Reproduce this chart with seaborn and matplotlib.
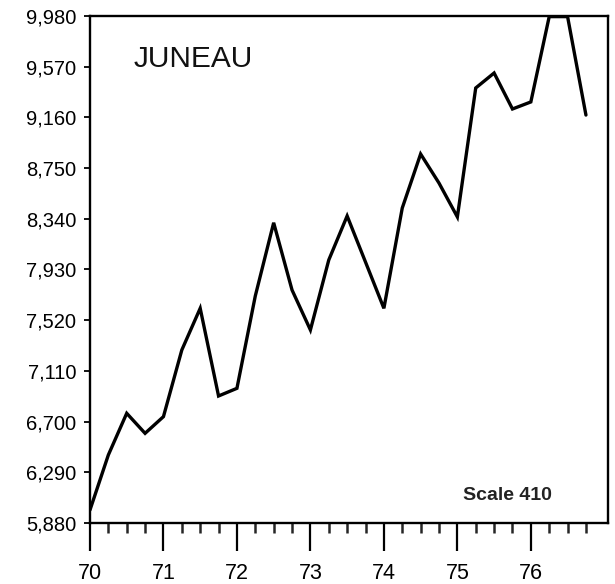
import numpy as np
import pandas as pd
import seaborn as sns
import matplotlib.ticker as ticker
from matplotlib import pyplot as plt

# quarterly readings, 1970 Q1 .. 1976 Q4 (x = year + quarter offset)
years = np.arange(70, 77)
quarter_offsets = [0.0, 0.25, 0.5, 0.75]
values = [5985, 6430, 6767, 6605,
          6740, 7279, 7616, 6907,
          6969, 7716, 8308, 7764,
          7441, 8007, 8363, 7990,
          7616, 8427, 8864, 8629,
          8355, 9398, 9519, 9228,
          9285, 9975, 9975, 9179]

y_ticks = [5880, 6290, 6700, 7110, 7520, 7930, 8340, 8750, 9160, 9570, 9980]
x_tick_labels = [str(y) for y in years]
title = "JUNEAU"
note = "Scale 410"

df = pd.DataFrame({
    "t": [y + q for y in years for q in quarter_offsets],
    "value": values,
})

sns.set_style("ticks")
plt.rcParams['font.family'] = ['Liberation Sans', 'DejaVu Sans']

fig = plt.figure(figsize=(6.15, 5.84), dpi=100)
ax = fig.add_axes([0.1463, 0.1045, 0.9886 - 0.1463, 0.9726 - 0.1045])

sns.lineplot(data=df, x="t", y="value", ax=ax, color="black",
             linewidth=2.4, solid_joinstyle="miter")

ax.set_xlim(70, 77.05)
ax.set_ylim(y_ticks[0], y_ticks[-1])

ax.set_yticks(y_ticks)
ax.yaxis.set_major_formatter(ticker.FuncFormatter(lambda v, p: f"{int(v):,}"))
ax.set_xticks(years)
ax.set_xticklabels(x_tick_labels)
ax.xaxis.set_minor_locator(ticker.FixedLocator(
    [y + q for y in years for q in quarter_offsets[1:]]))

ax.tick_params(axis="y", direction="out", length=4, width=1.3, pad=6,
               labelsize=14.5, colors="black")
ax.tick_params(axis="x", which="major", direction="out", length=20, width=1.6,
               pad=9, labelsize=15.5, colors="black")
ax.tick_params(axis="x", which="minor", direction="out", length=7, width=1.8)

for s in ax.spines.values():
    s.set_linewidth(1.7)
    s.set_color("black")

ax.set_xlabel("")
ax.set_ylabel("")

ax.text(0.085, 0.915, title, transform=ax.transAxes, fontsize=21.5,
        ha="left", va="center", color="#111111")
ax.text(0.72, 0.055, note, transform=ax.transAxes, fontsize=14,
        fontweight="bold", ha="left", va="center", color="#222222")

fig.savefig("out.png", dpi=100)
